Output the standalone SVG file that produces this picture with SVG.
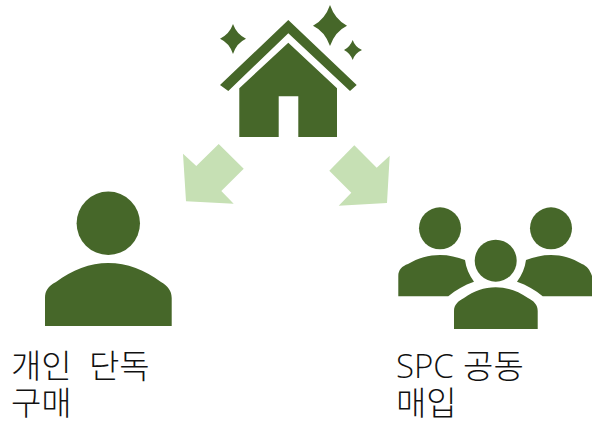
<svg xmlns="http://www.w3.org/2000/svg" width="592" height="421" viewBox="0 0 592 421">
<style>
.icon{fill:#466729}
.arrow{fill:#c6e0b4}
.label{font-family:"Noto Sans CJK KR","Open Sans",sans-serif;font-size:33px;font-weight:300;fill:#111}
.latin{font-family:"Open Sans","Noto Sans CJK KR",sans-serif;font-size:33px;font-weight:300}
</style>
<rect width="592" height="421" fill="#fff"/>
<g id="connectors">
<path class="arrow" d="M218.7 144L243.7 168.7L221.3 191L233.7 203.7L186 201.3L183 153.7L196.3 166Z"/>
<path class="arrow" d="M354.3 145.3L329.3 170.7L351.3 192.7L338.7 205.7L387 203L389.7 155.7L376.7 167.7Z"/>
</g>
<g id="house">
<path class="icon" d="M288.3 20L356.7 85L350 91L288.3 33.3L228.3 91L220 85Z"/>
<path class="icon" d="M288.3 42.7L337 88.3V137H298.3V96.3H278.7V137H239.3V88.3Z"/>
<path class="icon" d="M233 24Q236.5 34 246 38.7Q236.5 43 233 54Q229.5 43 220 38.7Q229.5 34 233 24Z"/>
<path class="icon" d="M330 5Q335 19.5 347 25.7Q335 31.5 330 46Q325 31.5 313 25.7Q325 19.5 330 5Z"/>
<path class="icon" d="M352.7 40Q355 47 362 50Q355 53 352.7 60Q350 53 344 50Q350 47 352.7 40Z"/>
</g>
<g id="single-person">
<circle class="icon" cx="108.3" cy="223.3" r="31.7"/>
<path class="icon" d="M45 326V298C45 291 48 286 56 282C72 270 90 263 108.3 263C127 263 145 270 161 282C168 286 171.7 291 171.7 298V326Z"/>
<text class="label" x="11" y="378" word-spacing="10">개인 단독</text>
<text class="label" x="11" y="415">구매</text>
</g>
<g id="spc-group">
<circle class="icon" cx="440" cy="228.3" r="21"/>
<circle class="icon" cx="551" cy="228.3" r="21"/>
<circle class="icon" cx="495.7" cy="260.7" r="21"/>
<path class="icon" d="M398.3 296.3V276C398.3 270 402 266 408 264C418 258 429 255 440 255C449 255 457 257 465 260C466 268 469 275 474 281.7C464 285 456 290 448.3 296.3Z"/>
<path class="icon" d="M592 296.3V276C590 270 587 266 582 264C572 258 562 255 551 255C542 255 534 257 526 260C525 268 522 275 517 281.7C527 285 535 290 542.7 296.3Z"/>
<path class="icon" d="M454 329V311C454 305 458 301 464 298C474 291 484 287.3 495.7 287.3C507 287.3 518 291 528 298C534 301 537.7 305 537.7 311V329Z"/>
<text class="label" x="396" y="378" word-spacing="2"><tspan class="latin">SPC</tspan> 공동</text>
<text class="label" x="396" y="415">매입</text>
</g>
</svg>
